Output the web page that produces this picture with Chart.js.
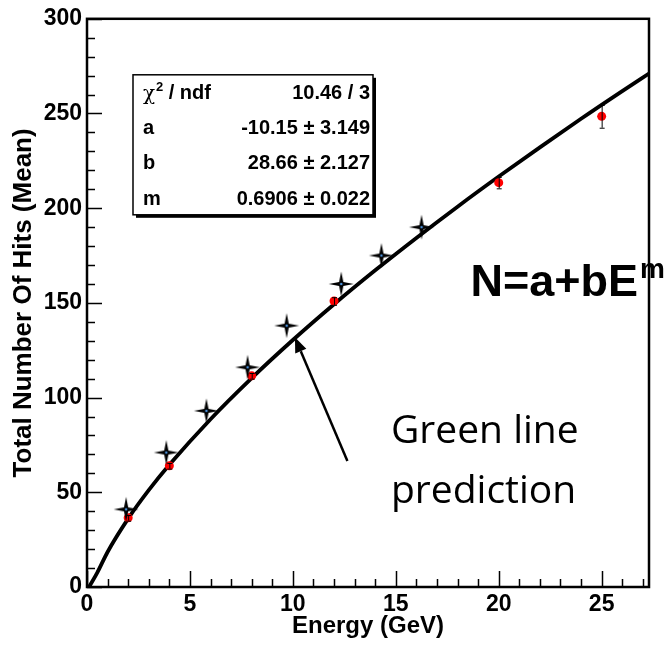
<!DOCTYPE html>
<html>
<head>
<meta charset="utf-8">
<script src="https://cdn.jsdelivr.net/npm/chart.js@4.4.1/dist/chart.umd.min.js"></script>
<style>
  html, body { margin: 0; padding: 0; background: #fff; }
  #wrap { width: 670px; height: 649px; }
</style>
</head>
<body>
<div id="wrap"><canvas id="hits" width="670" height="649"></canvas></div>
<script>
// simulated hits (stars)
const starEnergy = [1.9, 3.85, 5.8, 7.8, 9.7, 12.35, 14.3, 16.25];
const starHits   = [41, 71, 93, 116, 138, 160, 175, 190];

// beam data points with errors (red)
const dataEnergy = [2, 4, 8, 12, 20, 25];
const dataHits   = [36.5, 64, 111.5, 151, 213.5, 248.5];
const dataErr    = [1.5, 1.5, 1.5, 2, 3, 6];

// fitted curve N = a + b E^m, sampled along the drawn line
const fitEnergy = [0.1, 0.5, 1, 2, 3, 4, 6, 8, 10, 12, 14, 16, 18, 20, 22, 24, 26, 27.3];
const fitHits   = [0, 7.6, 18.5, 36.1, 51.1, 64.5, 88.6, 110.3, 130.4, 149.3, 167.2, 184.3, 200.8, 216.7, 232.1, 247.2, 261.8, 271.1];

// fit statistics box
const statNames  = ['χ', 'a', 'b', 'm'];
const statValues = ['10.46 / 3', '-10.15 ± 3.149', '28.66 ± 2.127', '0.6906 ± 0.022'];

const FONT = '"Liberation Sans", Arial, Helvetica, sans-serif';

function toXY(xs, ys) {
  return xs.map((x, i) => ({ x: x, y: ys[i] }));
}

// four-pointed black star with a small blue centre
function starMarker() {
  const c = document.createElement('canvas');
  c.width = 28; c.height = 28;
  const g = c.getContext('2d');
  const cx = 14, cy = 14, R = 12.5, r = 3;
  g.beginPath();
  for (let i = 0; i < 8; i++) {
    const ang = i * Math.PI / 4 - Math.PI / 2;
    const rad = i % 2 === 0 ? R : r;
    g.lineTo(cx + rad * Math.cos(ang), cy + rad * Math.sin(ang));
  }
  g.closePath();
  g.fillStyle = '#000';
  g.fill();
  g.fillStyle = '#4a8fd8';
  g.beginPath();
  g.arc(cx, cy, 1.3, 0, Math.PI * 2);
  g.fill();
  return c;
}

// frame, inward ticks and error bars
const framePlugin = {
  id: 'frame',
  afterDatasetsDraw(chart) {
    const ctx = chart.ctx;
    const ca = chart.chartArea;
    const xs = chart.scales.x, ys = chart.scales.y;
    ctx.save();
    // error bars on the data points
    ctx.strokeStyle = '#000';
    ctx.lineWidth = 1;
    dataEnergy.forEach((e, i) => {
      const px = xs.getPixelForValue(e);
      const y1 = ys.getPixelForValue(dataHits[i] - dataErr[i]);
      const y2 = ys.getPixelForValue(dataHits[i] + dataErr[i]);
      ctx.beginPath();
      ctx.moveTo(px + 0.5, y1);
      ctx.lineTo(px + 0.5, y2);
      ctx.moveTo(px - 2, y1 + 0.5); ctx.lineTo(px + 3, y1 + 0.5);
      ctx.moveTo(px - 2, y2 + 0.5); ctx.lineTo(px + 3, y2 + 0.5);
      ctx.stroke();
    });

    ctx.lineWidth = 1.5;
    ctx.beginPath();
    for (let v = 0; v <= 300; v += 10) {
      const py = Math.round(ys.getPixelForValue(v)) + 0.5;
      const len = v % 50 === 0 ? 15 : 8;
      ctx.moveTo(ca.left, py);
      ctx.lineTo(ca.left + len, py);
    }
    for (let v = 0; v <= 27; v += 1) {
      const px = Math.round(xs.getPixelForValue(v)) + 0.5;
      const len = v % 5 === 0 ? 16 : 8;
      ctx.moveTo(px, ca.bottom);
      ctx.lineTo(px, ca.bottom - len);
    }
    ctx.stroke();

    ctx.lineWidth = 2.5;
    ctx.strokeRect(ca.left, ca.top, ca.right - ca.left, ca.bottom - ca.top);
    ctx.restore();
  },
  afterDraw(chart) {
    const ctx = chart.ctx;
    const ca = chart.chartArea;
    const xs = chart.scales.x, ys = chart.scales.y;
    ctx.save();

    // statistics box with shadow
    const bx = ca.left + 46, by = ca.top + 56, bw = 240, bh = 140;
    ctx.fillStyle = '#000';
    ctx.fillRect(bx + 3, by + 3, bw, bh);
    ctx.fillStyle = '#fff';
    ctx.fillRect(bx, by, bw, bh);
    ctx.strokeStyle = '#000';
    ctx.lineWidth = 1.5;
    ctx.strokeRect(bx, by, bw, bh);

    ctx.fillStyle = '#000';
    ctx.textBaseline = 'middle';
    const rowY = [19, 54, 89, 125];
    statNames.forEach((name, i) => {
      const y = by + rowY[i];
      ctx.textAlign = 'left';
      ctx.font = 'bold 20px ' + FONT;
      if (i === 0) {
        ctx.font = '20px "DejaVu Serif", serif';
        ctx.fillText(name, bx + 10, y + 1);
        const w = ctx.measureText(name).width;
        ctx.font = 'bold 13px ' + FONT;
        ctx.fillText('2', bx + 11 + w, y - 6);
        ctx.font = 'bold 20px ' + FONT;
        ctx.fillText(' / ndf', bx + 18 + w, y);
      } else {
        ctx.fillText(name, bx + 10, y);
      }
      ctx.textAlign = 'right';
      ctx.font = 'bold 20px ' + FONT;
      ctx.fillText(statValues[i], bx + bw - 3, y);
    });

    // fit formula
    ctx.textBaseline = 'alphabetic';
    ctx.textAlign = 'right';
    ctx.font = 'bold 45px ' + FONT;
    ctx.fillText('N=a+bE', 638, 296);
    ctx.textAlign = 'left';
    ctx.font = 'bold 28px ' + FONT;
    ctx.fillText('m', 640, 278);

    // annotation text and arrow
    ctx.font = '39px "Open Sans", Lato, sans-serif';
    ctx.fillText('Green line', 391, 443);
    ctx.fillText('prediction', 391, 503);

    const tx = xs.getPixelForValue(10.1), ty = ys.getPixelForValue(131.8);
    const sx = xs.getPixelForValue(12.65), sy = ys.getPixelForValue(66.5);
    const ang = Math.atan2(ty - sy, tx - sx);
    const hl = 15, hw = 6;
    const bxp = tx - hl * Math.cos(ang), byp = ty - hl * Math.sin(ang);
    ctx.strokeStyle = '#000';
    ctx.lineWidth = 2.5;
    ctx.beginPath();
    ctx.moveTo(sx, sy);
    ctx.lineTo(bxp, byp);
    ctx.stroke();
    ctx.beginPath();
    ctx.moveTo(tx, ty);
    ctx.lineTo(bxp + hw * Math.sin(ang), byp - hw * Math.cos(ang));
    ctx.lineTo(bxp - hw * Math.sin(ang), byp + hw * Math.cos(ang));
    ctx.closePath();
    ctx.fill();
    ctx.restore();
  }
};

new Chart(document.getElementById('hits'), {
  type: 'scatter',
  data: {
    datasets: [
      {
        label: 'Simulation',
        data: toXY(starEnergy, starHits),
        pointStyle: starMarker(),
        order: 0
      },
      {
        label: 'Data',
        data: toXY(dataEnergy, dataHits),
        pointStyle: 'circle',
        pointRadius: 4.5,
        backgroundColor: '#ff0000',
        borderColor: '#ff0000',
        borderWidth: 0,
        order: 1
      },
      {
        label: 'Fit',
        data: toXY(fitEnergy, fitHits),
        showLine: true,
        pointRadius: 0,
        borderColor: '#000',
        borderWidth: 3.8,
        cubicInterpolationMode: 'monotone',
        fill: false,
        order: 2
      }
    ]
  },
  options: {
    responsive: false,
    animation: false,
    layout: { padding: { top: 16, right: 21, left: 0, bottom: 0 } },
    plugins: {
      legend: { display: false },
      tooltip: { enabled: false }
    },
    scales: {
      x: {
        type: 'linear',
        min: 0,
        max: 27.3,
        afterFit: s => { s.height = 62; },
        grid: { display: false, drawTicks: false },
        border: { display: false },
        ticks: {
          stepSize: 5,
          includeBounds: false,
          autoSkip: false,
          maxRotation: 0,
          padding: 4,
          color: '#000',
          font: { family: FONT, size: 23, weight: 'bold' }
        },
        title: {
          display: true,
          text: 'Energy (GeV)',
          color: '#000',
          padding: { top: 0, bottom: 8 },
          font: { family: FONT, size: 24, weight: 'bold' }
        }
      },
      y: {
        type: 'linear',
        min: 0,
        max: 300,
        afterFit: s => { s.width = 87; },
        grid: { display: false, drawTicks: false },
        border: { display: false },
        ticks: {
          stepSize: 50,
          padding: 5,
          color: '#000',
          font: { family: FONT, size: 23, weight: 'bold' }
        },
        title: {
          display: true,
          text: 'Total Number Of Hits (Mean)',
          color: '#000',
          padding: { top: 8, bottom: 0 },
          font: { family: FONT, size: 26, weight: 'bold' }
        }
      }
    }
  },
  plugins: [framePlugin]
});
</script>
</body>
</html>
